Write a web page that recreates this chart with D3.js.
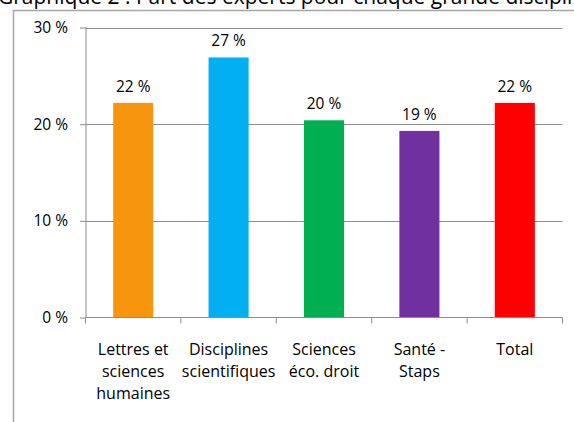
<!DOCTYPE html>
<html><head><meta charset="utf-8">
<script src="https://cdn.jsdelivr.net/npm/d3@7"></script>
<style>body{margin:0;background:#fff;overflow:hidden}svg{display:block}text{font-family:"Open Sans",sans-serif;fill:#000}</style>
</head><body>
<svg id="c" width="574" height="422"></svg>
<script>
const title = "Graphique 2 : Part des experts pour chaque grande discipline";
const categories = [["Lettres et","sciences","humaines"],["Disciplines","scientifiques"],["Sciences","éco. droit"],["Santé -","Staps"],["Total"]];
const values = [0.222, 0.269, 0.204, 0.193, 0.222];
const valueLabels = ["22 %","27 %","20 %","19 %","22 %"];
const colors = ["#f7950f","#00b0f0","#00b050","#7030a0","#ff0000"];
const yTicks = [0, 0.1, 0.2, 0.3];
const yTickLabels = ["0 %","10 %","20 %","30 %"];

const svg = d3.select("#c");
// frame
svg.append("path").attr("d","M13.5,422 V10.5 H574").attr("fill","none").attr("stroke","#a6a6a6").attr("stroke-width",1.5);
svg.append("text").attr("x",-2).attr("y",3.5).attr("font-size",21).text(title);

const x = d3.scaleBand().domain(d3.range(categories.length)).range([85.5,562.5]).paddingInner(0.58).paddingOuter(0.29);
const y = d3.scaleLinear().domain([0,0.3]).range([317.5,27.5]);

// gridlines
svg.append("g").selectAll("line").data(yTicks.slice(1)).join("line")
  .attr("x1",86).attr("x2",562.5).attr("y1",d=>Math.round(y(d))+0.5).attr("y2",d=>Math.round(y(d))+0.5)
  .attr("stroke","#8c8c8c").attr("stroke-width",1);

// y axis
const ya = svg.append("g").attr("transform","translate(86,0)")
  .call(d3.axisLeft(y).tickValues(yTicks).tickSize(6).tickPadding(12).tickFormat((d,i)=>yTickLabels[i]));
ya.select(".domain").attr("stroke","#8c8c8c").attr("d","M0,27.5V317.5");
ya.selectAll(".tick line").attr("stroke","#8c8c8c");
ya.selectAll(".tick text").attr("font-family","Open Sans").attr("font-size",15.5).attr("fill","#000");

// bars
svg.append("g").selectAll("rect").data(values).join("rect")
  .attr("x",(d,i)=>x(i)).attr("width",x.bandwidth())
  .attr("y",d=>y(d)).attr("height",d=>y(0)-y(d)).attr("fill",(d,i)=>colors[i]);

// x axis
const xb = d3.scaleLinear().domain([0,categories.length]).range([85.5,562.5]);
const xa = svg.append("g").attr("transform","translate(0,317.5)");
xa.append("line").attr("x1",85.5).attr("x2",562.5).attr("stroke","#8c8c8c");
xa.selectAll("line.t").data(d3.range(categories.length+1)).join("line").attr("class","t")
  .attr("x1",d=>xb(d)).attr("x2",d=>xb(d)).attr("y1",0).attr("y2",6).attr("stroke","#8c8c8c");

// value labels
svg.append("g").selectAll("text").data(values).join("text")
  .attr("x",(d,i)=>x(i)+x.bandwidth()/2).attr("y",d=>y(d)-11)
  .attr("text-anchor","middle").attr("font-size",15.5).text((d,i)=>valueLabels[i]);

// category labels
const cl = svg.append("g").selectAll("text").data(categories).join("text")
  .attr("x",(d,i)=>x(i)+x.bandwidth()/2).attr("y",355).attr("text-anchor","middle").attr("font-size",16);
cl.selectAll("tspan").data(d=>d).join("tspan")
  .attr("x",function(){return this.parentNode.getAttribute("x");})
  .attr("dy",(d,i)=>i===0?0:22).text(d=>d);
</script>
</body></html>
